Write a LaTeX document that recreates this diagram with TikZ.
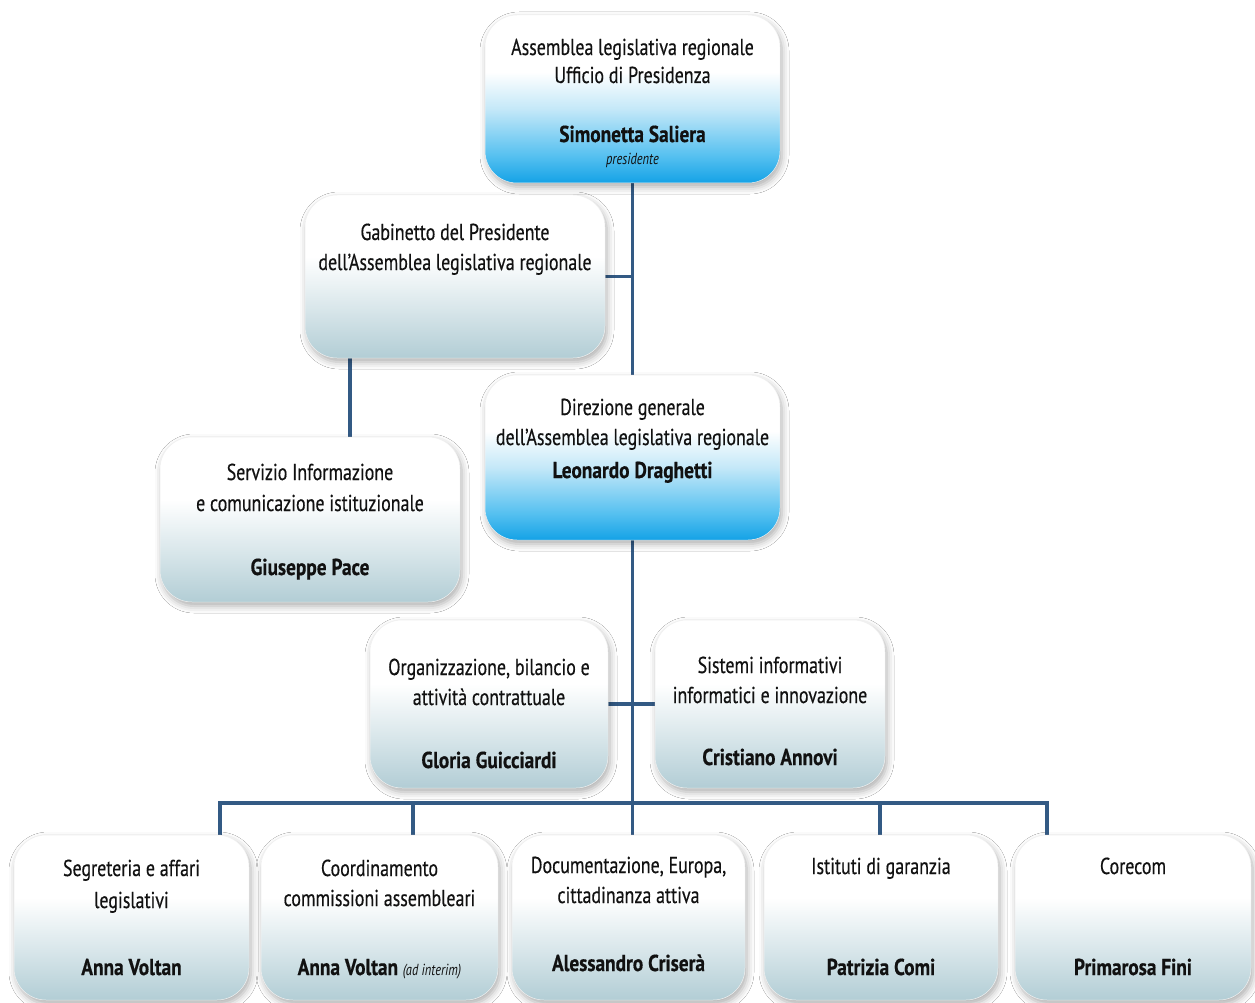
\documentclass[tikz,border=0pt]{standalone}
\usepackage{fontspec}
\setmainfont{PT Sans}[FakeStretch=0.78, FakeBold=0.4, BoldFeatures={FakeStretch=0.84, FakeBold=0.5}, ItalicFeatures={FakeStretch=0.78, FakeBold=0}]
\usetikzlibrary{shadows.blur,backgrounds}
\definecolor{conncol}{HTML}{335A84}
\definecolor{txtc}{HTML}{111111}
\definecolor{gbot}{HTML}{B2CDD5}
\definecolor{gmid}{HTML}{D8E6EA}
\definecolor{bbot}{HTML}{14A2E6}
\definecolor{bmid}{HTML}{55C0F0}
\definecolor{blight}{HTML}{C4E8F8}
\pgfdeclareverticalshading{greysh}{100bp}{color(0bp)=(gbot); color(25bp)=(gbot); color(40bp)=(gmid); color(56bp)=(white); color(100bp)=(white)}
\pgfdeclareverticalshading{bluesh}{100bp}{color(0bp)=(bbot); color(25bp)=(bbot); color(33bp)=(bmid); color(47bp)=(blight); color(58bp)=(white); color(100bp)=(white)}
\tikzset{
  box/.style={rectangle, rounded corners=32pt, draw=black!6, line width=0.5pt, inner sep=0pt,
    blur shadow={shadow xshift=2pt, shadow yshift=-4pt, shadow blur radius=7pt, shadow opacity=32}},
  gbox/.style={box, shading=greysh},
  bbox/.style={box, shading=bluesh},
  txt/.style={anchor=base, inner sep=0pt, text=txtc, font=\fontsize{23}{27}\selectfont},
  nm/.style={txt, font=\fontsize{23}{27}\selectfont\bfseries},
  conn/.style={draw=conncol, line width=3.5pt}
}
\begin{document}
\begin{tikzpicture}[x=1pt,y=-1pt]
\useasboundingbox (0,0) rectangle (1255,1003);
% boxes
\node[bbox, minimum width=295pt, minimum height=168pt] (top) at (632.5,99) {};
\node[gbox, minimum width=300pt, minimum height=163pt] (gab) at (455,276.5) {};
\node[gbox, minimum width=300pt, minimum height=165pt] (serv) at (310,519.5) {};
\node[bbox, minimum width=295pt, minimum height=165pt] (dir) at (632.5,457.5) {};
\node[gbox, minimum width=238pt, minimum height=168pt] (org) at (489,704) {};
\node[gbox, minimum width=230pt, minimum height=168pt] (sis) at (770,704) {};
\node[gbox, minimum width=235pt, minimum height=165pt] (b1) at (131.5,917.5) {};
\node[gbox, minimum width=237pt, minimum height=165pt] (b2) at (379.5,917.5) {};
\node[gbox, minimum width=233pt, minimum height=165pt] (b3) at (628.5,917.5) {};
\node[gbox, minimum width=234pt, minimum height=165pt] (b4) at (881,917.5) {};
\node[gbox, minimum width=236pt, minimum height=165pt] (b5) at (1133,917.5) {};
% connectors
\coordinate (busL) at (220,803);
\coordinate (busR) at (1047,803);
\coordinate (d2) at (413,803);
\coordinate (d4) at (880,803);
\coordinate (gs) at (350,358);
\begin{pgfonlayer}{background}
\fill[white] (0,0) rectangle (1255,1003);
\draw[conn] (top.south) -- (dir.north);
\draw[conn] (gab.east) -- (gab.east -| top.south);
\draw[conn] (gs) -- (gs |- serv.north);
\draw[conn] (dir.south) -- (dir.south |- busL);
\draw[conn] (org.east) -- (sis.west);
\draw[conn, line cap=rect] (busL) -- (busR);
\draw[conn] (busL) -- (busL |- b1.north);
\draw[conn] (d2) -- (d2 |- b2.north);
\draw[conn] (dir.south |- busL) -- (dir.south |- b3.north);
\draw[conn] (d4) -- (d4 |- b4.north);
\draw[conn] (busR) -- (busR |- b5.north);
\end{pgfonlayer}
% texts
\node[txt] (t1) at (632.5,55) {Assemblea legislativa regionale};
\node[txt] (t2) at (632.5,83) {Ufficio di Presidenza};
\node[nm] (t3) at (632.5,142) {Simonetta Saliera};
\node[txt, font=\fontsize{16}{19}\selectfont\itshape] (t4) at (632.5,165) {presidente};
\node[txt] (g1) at (455,240) {Gabinetto del Presidente};
\node[txt] (g2) at (455,270) {dell’Assemblea legislativa regionale};
\node[txt] (s1) at (310,480) {Servizio Informazione};
\node[txt] (s2) at (310,511) {e comunicazione istituzionale};
\node[nm] (s3) at (310,575) {Giuseppe Pace};
\node[txt] (r1) at (632.5,415) {Direzione generale};
\node[txt] (r2) at (632.5,445) {dell’Assemblea legislativa regionale};
\node[nm] (r3) at (632.5,478) {Leonardo Draghetti};
\node[txt] (o1) at (489,675) {Organizzazione, bilancio e};
\node[txt] (o2) at (489,705) {attività contrattuale};
\node[nm] (o3) at (489,768) {Gloria Guicciardi};
\node[txt] (i1) at (770,673) {Sistemi informativi};
\node[txt] (i2) at (770,703) {informatici e innovazione};
\node[nm] (i3) at (770,765) {Cristiano Annovi};
\node[txt] (a1) at (131.5,876) {Segreteria e affari};
\node[txt] (a2) at (131.5,908) {legislativi};
\node[nm] (a3) at (131.5,975) {Anna Voltan};
\node[txt] (c1) at (379.5,876) {Coordinamento};
\node[txt] (c2) at (379.5,906) {commissioni assembleari};
\node[nm] (c3) at (379.5,975) {Anna Voltan {\mdseries\itshape\fontsize{16}{19}\selectfont(ad interim)}};
\node[txt] (e1) at (628.5,873) {Documentazione, Europa,};
\node[txt] (e2) at (628.5,903) {cittadinanza attiva};
\node[nm] (e3) at (628.5,971) {Alessandro Criserà};
\node[txt] (f1) at (881,874) {Istituti di garanzia};
\node[nm] (f3) at (881,975) {Patrizia Comi};
\node[txt] (h1) at (1133,874) {Corecom};
\node[nm] (h3) at (1133,975) {Primarosa Fini};
\end{tikzpicture}
\end{document}
